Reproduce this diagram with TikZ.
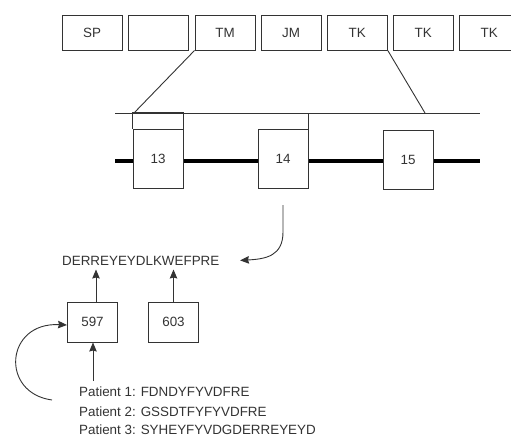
\documentclass[tikz,border=0pt]{standalone}
\usepackage{fontspec}
\setmainfont{Liberation Sans}
\usetikzlibrary{arrows.meta}
\definecolor{ink}{HTML}{333333}
\begin{document}
\begin{tikzpicture}[x=1pt,y=-1pt,
  every node/.style={font=\fontsize{13.4}{16}\selectfont, text=ink},
  topbox/.style={draw=ink, line width=1pt, minimum width=60pt, minimum height=35pt, inner sep=0pt},
  exon/.style={draw=ink, line width=1pt, fill=white, minimum width=50pt, minimum height=59pt, inner sep=0pt},
  numbox/.style={draw=ink, line width=1pt, minimum width=50pt, minimum height=40pt, inner sep=0pt},
  thin/.style={draw=ink, line width=0.9pt},
  arr/.style={thin, -{Stealth[length=9pt,width=7.5pt,inset=1pt]}},
  seq/.style={inner sep=0pt, anchor=base west}]
\useasboundingbox (0,0) rectangle (511,439);
\clip (0,0) rectangle (511,439);
% top domain boxes
\node[topbox] (sp)  at (92,32.5)  {SP};
\node[topbox] (b2)  at (158.5,32.5) {};
\node[topbox] (tm)  at (225,32.5) {TM};
\node[topbox] (jm)  at (291,32.5) {JM};
\node[topbox] (tk1) at (357.3,32.5) {TK};
\node[topbox] (tk2) at (423.3,32.5) {TK};
\node[topbox] (tk3) at (489.3,32.5) {TK};
% gene line
\coordinate (hl) at (115,113);
\coordinate (hr) at (480,113);
\coordinate (gl) at (115,161);
\coordinate (gr) at (480,161);
\coordinate (z1) at (134,113);
\coordinate (z2) at (425,113);
\draw[thin] (hl) -- (hr);
\draw[black, line width=4.5pt] (gl) -- (gr);
\draw[thin] (tm.south west) -- (z1);
\draw[thin] (tk1.south east) -- (z2);
\node[exon] (e13) at (158,158.5) {13};
\node[exon] (e14) at (283,159) {14};
\node[exon] (e15) at (408,160) {15};
\draw[thin] (e13.north west) -- ++(0,-16) -| (e13.north east);
\draw[thin] (e14.north east) -- ++(0,-16);
% sequence
\node[seq] (s) at (62,265) {DERREYEYDLKWEFPRE};
\coordinate (c14) at (283,205);
\draw[arr] (c14) -- (283,232) .. controls (283,256) and (266,259) .. (s.east -| 240,0) ;
\node[numbox] (n597) at (92.5,322) {597};
\node[numbox] (n603) at (173.5,322) {603};
\coordinate (a1) at (96,269.5);
\coordinate (a2) at (173.5,269.5);
\draw[arr] (n597.north -| a1) -- (a1);
\draw[arr] (n603.north) -- (a2);
% patients
\node[seq] (p1) at (79,396) {Patient 1: FDNDYFYVDFRE};
\node[seq] (p2) at (79,416) {Patient 2: GSSDTFYFYVDFRE};
\node[seq] (p3) at (79,434) {Patient 3: SYHEYFYVDGDERREYEYD};
\coordinate (pb) at (93,381);
\draw[arr] (pb) -- (n597.south -| pb);
\coordinate (q0) at (52,400);
\draw[arr] (q0) .. controls (0,393) and (5,322) .. (n597.west |- 0,325);
\end{tikzpicture}
\end{document}
